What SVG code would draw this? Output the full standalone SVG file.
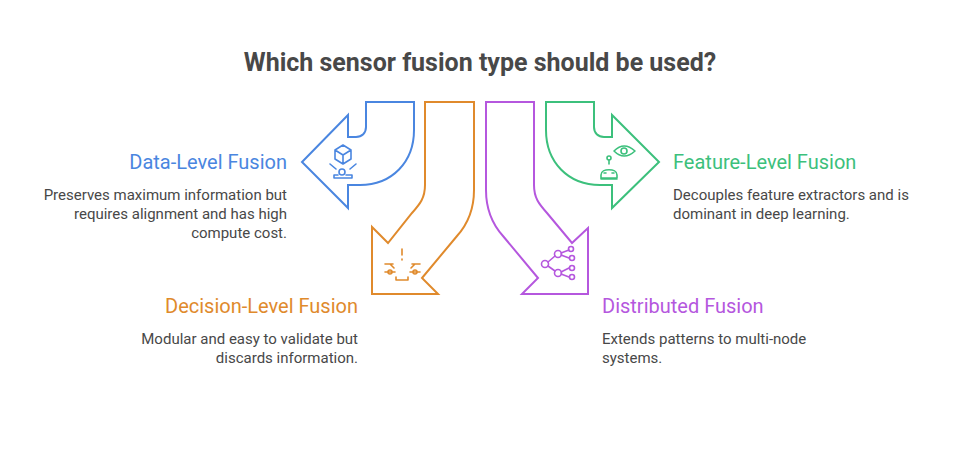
<svg xmlns="http://www.w3.org/2000/svg" width="960" height="450" viewBox="0 0 960 450">
<style>
text{font-family:Roboto,"Liberation Sans",sans-serif}
.t{font-size:25px;font-weight:bold;fill:#484848}
.h{font-size:20px}
.d{font-size:15px;fill:#484848}
.a{fill:#fff;stroke-width:2;stroke-linejoin:miter}
.i{fill:none;stroke-width:1.6;stroke-linecap:round;stroke-linejoin:round}
</style>
<rect width="960" height="450" fill="#fff"/>
<text class="t" x="480" y="71" text-anchor="middle">Which sensor fusion type should be used?</text>
<g id="connectors"></g>
<g id="data">
<path class="a" stroke="#4a86e0" d="M366,102 L414,102 L414,130 C414,162 392,185 360,185 L348,185 L348,208 L302,162 L348,115 L348,137 L356,137 C362,137 366,133 366,127 Z"/>
<g class="i" stroke="#4a86e0"><path d="M335,150 L343,145 L351,150 L351,159 L343,164 L335,159 Z M335,150 L343,155 L351,150 M343,155 L343,164"/><path d="M330,164 L336,169 M356,164 L350,169"/><circle cx="342" cy="172" r="3"/><path d="M334,178 L352,178 L352,175 L346,175 M334,178 L334,175 L338,175"/></g>
<text class="h" x="287" y="169" text-anchor="end" fill="#4a86e0">Data-Level Fusion</text>
<text class="d" text-anchor="end"><tspan x="287" y="200">Preserves maximum information but</tspan><tspan x="287" y="219">requires alignment and has high</tspan><tspan x="287" y="238">compute cost.</tspan></text>
</g>
<g id="decision">
<path class="a" stroke="#e08a2c" d="M425,102 L474,102 L474,190 C474,212 466,226 457,236 L422,278 L438,294 L372,294 L372,227 L388,243 L412,213 C420,204 425,198 425,185 Z"/>
<g class="i" stroke="#e08a2c"><path d="M402,249 L402,255 M402,259 L402,260"/><path d="M385,264 L393,264 M385,272 L395,272 M390,264 L394,268"/><circle cx="390" cy="272" r="2"/><path d="M420,264 L412,264 M420,272 L410,272 M415,264 L411,268"/><circle cx="415" cy="272" r="2"/><path d="M396,277 L396,280 L408,280 L408,277"/></g>
<text class="h" x="358" y="313" text-anchor="end" fill="#e08a2c">Decision-Level Fusion</text>
<text class="d" text-anchor="end"><tspan x="358" y="344">Modular and easy to validate but</tspan><tspan x="358" y="363">discards information.</tspan></text>
</g>
<g id="distributed">
<path class="a" stroke="#b557de" d="M486,102 L534,102 L534,185 C534,198 539,204 547,213 L572,243 L588,228 L588,294 L522,294 L538,278 L503,236 C494,226 486,212 486,190 Z"/>
<g class="i" stroke="#b557de"><circle cx="545" cy="264" r="3.5"/><circle cx="558" cy="254" r="3.5"/><circle cx="558" cy="273" r="3.5"/><circle cx="571" cy="249" r="2.5"/><circle cx="572" cy="258" r="2.5"/><circle cx="572" cy="268" r="2.5"/><circle cx="572" cy="277" r="2.5"/><path d="M548,262 L555,256 M548,266 L555,271 M561,253 L569,250 M561,255 L569,258 M561,272 L569,268 M561,274 L569,277"/></g>
<text class="h" x="602" y="313" fill="#b557de">Distributed Fusion</text>
<text class="d"><tspan x="602" y="344">Extends patterns to multi-node</tspan><tspan x="602" y="363">systems.</tspan></text>
</g>
<g id="feature">
<path class="a" stroke="#3cc07c" d="M546,102 L594,102 L594,127 C594,133 598,137 604,137 L612,137 L612,115 L659,162 L612,208 L612,185 L600,185 C568,185 546,162 546,130 Z"/>
<g class="i" stroke="#3cc07c"><path d="M614,151 Q624,141 635,151 Q624,161 614,151 Z"/><circle cx="624" cy="151" r="3"/><circle cx="609" cy="158" r="2"/><path d="M609,160 L609,164 M601,175 C601,168 617,168 617,175 L617,178 L601,178 Z M601,178 L601,179 L617,179"/><path d="M604,173 L606,173 M612,173 L614,173"/></g>
<text class="h" x="673" y="169" fill="#3cc07c">Feature-Level Fusion</text>
<text class="d"><tspan x="673" y="200">Decouples feature extractors and is</tspan><tspan x="673" y="219">dominant in deep learning.</tspan></text>
</g>
</svg>
